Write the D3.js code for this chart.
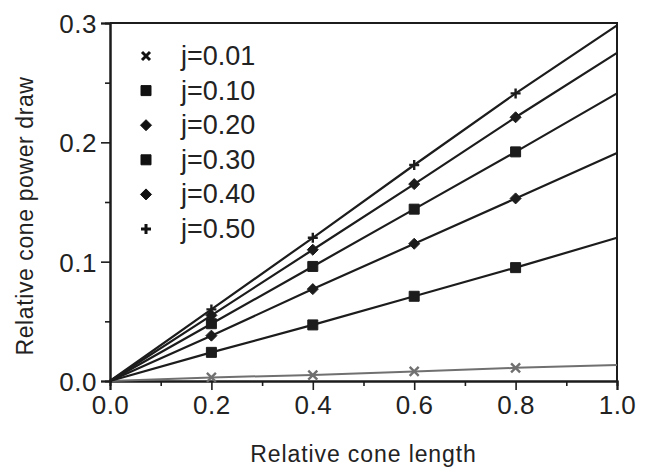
<!DOCTYPE html>
<html>
<head>
<meta charset="utf-8">
<script src="https://cdn.jsdelivr.net/npm/d3@7"></script>
<style>
  html, body { margin: 0; padding: 0; background: #fff; }
  svg { display: block; font-family: 'Liberation Sans', Arial, Helvetica, sans-serif; }
</style>
</head>
<body>
<svg class="stage" width="658" height="468"></svg>
<script>
// cone length (x) shared by all series
var lengths = [0, 0.2, 0.4, 0.6, 0.8, 1.0];

// relative power draw for each j
var j001 = [0, 0.003, 0.005, 0.008, 0.011, 0.0135];
var j010 = [0, 0.024, 0.047, 0.071, 0.095, 0.120];
var j020 = [0, 0.038, 0.077, 0.115, 0.153, 0.191];
var j030 = [0, 0.048, 0.096, 0.144, 0.192, 0.241];
var j040 = [0, 0.055, 0.110, 0.165, 0.221, 0.275];
var j050 = [0, 0.060, 0.120, 0.181, 0.241, 0.298];

var seriesNames = ['j=0.01', 'j=0.10', 'j=0.20', 'j=0.30', 'j=0.40', 'j=0.50'];
var seriesValues = [j001, j010, j020, j030, j040, j050];
var seriesSymbols = ['cross', 'square', 'diamond', 'square', 'diamond', 'plus'];

var xTicks = [0, 0.2, 0.4, 0.6, 0.8, 1.0];
var xMinorTicks = [0.1, 0.3, 0.5, 0.7, 0.9];
var yTicks = [0, 0.1, 0.2, 0.3];
var yMinorTicks = [0.05, 0.15, 0.25];

(function () {
  var svg = d3.select('svg.stage');

  var left = 110;
  var right = 617;
  var top = 23;
  var bottom = 381;

  var x = d3.scaleLinear().domain([0, 1]).range([left, right]);
  var y = d3.scaleLinear().domain([0, 0.3]).range([bottom, top]);

  var ink = '#1c1c1c';

  // frame
  svg.append('path')
    .attr('d', 'M' + left + ',' + top + 'H' + right + 'V' + bottom)
    .attr('fill', 'none')
    .attr('stroke', ink)
    .attr('stroke-width', 2);

  // axes
  var xAxis = svg.append('g')
    .attr('transform', 'translate(0,' + bottom + ')')
    .call(d3.axisBottom(x).tickValues(xTicks).tickSize(9).tickPadding(6)
      .tickFormat(d3.format('.1f')));

  var xMinor = svg.append('g')
    .attr('transform', 'translate(0,' + bottom + ')')
    .call(d3.axisBottom(x).tickValues(xMinorTicks).tickSize(5).tickFormat(''));

  var yAxis = svg.append('g')
    .attr('transform', 'translate(' + left + ',0)')
    .call(d3.axisLeft(y).tickValues(yTicks).tickSize(9).tickPadding(4)
      .tickFormat(d3.format('.1f')));

  var yMinor = svg.append('g')
    .attr('transform', 'translate(' + left + ',0)')
    .call(d3.axisLeft(y).tickValues(yMinorTicks).tickSize(5).tickFormat(''));

  [xAxis, xMinor, yAxis, yMinor].forEach(function (g) {
    g.select('.domain').attr('stroke', ink).attr('stroke-width', 2);
    g.selectAll('.tick line').attr('stroke', ink).attr('stroke-width', 1.6);
    g.selectAll('.tick text')
      .attr('fill', '#222')
      .style('font-family', "'Liberation Sans', Arial, sans-serif")
      .style('font-size', '26px')
      .style('letter-spacing', '0.5px');
  });
  yAxis.selectAll('.tick text').attr('dy', '0.36em');

  // axis titles
  svg.append('text')
    .attr('x', (left + right) / 2)
    .attr('y', 462)
    .attr('text-anchor', 'middle')
    .attr('fill', '#222')
    .style('font-size', '23px')
    .style('letter-spacing', '0.9px')
    .text('Relative cone length');

  svg.append('text')
    .attr('transform', 'translate(33,' + 216 + ') rotate(-90)')
    .attr('text-anchor', 'middle')
    .attr('fill', '#222')
    .style('font-size', '23px')
    .style('letter-spacing', '0.6px')
    .text('Relative cone power draw');

  function symbolPath(kind, size) {
    var h = size / 2;
    if (kind === 'square') {
      return 'M' + -h + ',' + -h + 'H' + h + 'V' + h + 'H' + -h + 'Z';
    }
    if (kind === 'diamond') {
      return 'M0,' + -h * 1.1 + 'L' + h * 1.1 + ',0L0,' + h * 1.1 + 'L' + -h * 1.1 + ',0Z';
    }
    if (kind === 'plus') {
      return 'M0,' + -h + 'V' + h + 'M' + -h + ',0H' + h;
    }
    return 'M' + -h + ',' + -h + 'L' + h + ',' + h + 'M' + h + ',' + -h + 'L' + -h + ',' + h;
  }

  function drawSymbol(g, kind, size, color, weight) {
    var filled = kind === 'square' || kind === 'diamond';
    g.append('path')
      .attr('d', symbolPath(kind, size))
      .attr('fill', filled ? color : 'none')
      .attr('stroke', color)
      .attr('stroke-width', filled ? 1 : weight);
  }

  var line = d3.line()
    .x(function (d) { return x(d[0]); })
    .y(function (d) { return y(d[1]); });

  var plot = svg.append('g');

  seriesValues.forEach(function (values, i) {
    var pts = lengths.map(function (l, k) { return [l, values[k]]; });
    var color = i === 0 ? '#707070' : ink;

    plot.append('path')
      .datum(pts)
      .attr('d', line)
      .attr('fill', 'none')
      .attr('stroke', color)
      .attr('stroke-width', i === 0 ? 2 : 2.2);

    pts.filter(function (p) { return p[0] > 0 && p[0] < 1; }).forEach(function (p) {
      var g = plot.append('g')
        .attr('transform', 'translate(' + x(p[0]) + ',' + y(p[1]) + ')');
      drawSymbol(g, seriesSymbols[i], seriesSymbols[i] === 'cross' ? 9 : 10, color, 2.4);
    });
  });

  // legend
  var legend = svg.append('g');
  seriesNames.forEach(function (name, i) {
    var cy = 56 + i * 34.6;
    var g = legend.append('g').attr('transform', 'translate(146,' + cy + ')');
    drawSymbol(g, seriesSymbols[i], seriesSymbols[i] === 'cross' ? 8 : 10, '#111', 3);
    legend.append('text')
      .attr('x', 181)
      .attr('y', cy + 9)
      .attr('fill', '#222')
      .style('font-size', '27px')
      .text(name);
  });
})();
</script>
</body>
</html>
